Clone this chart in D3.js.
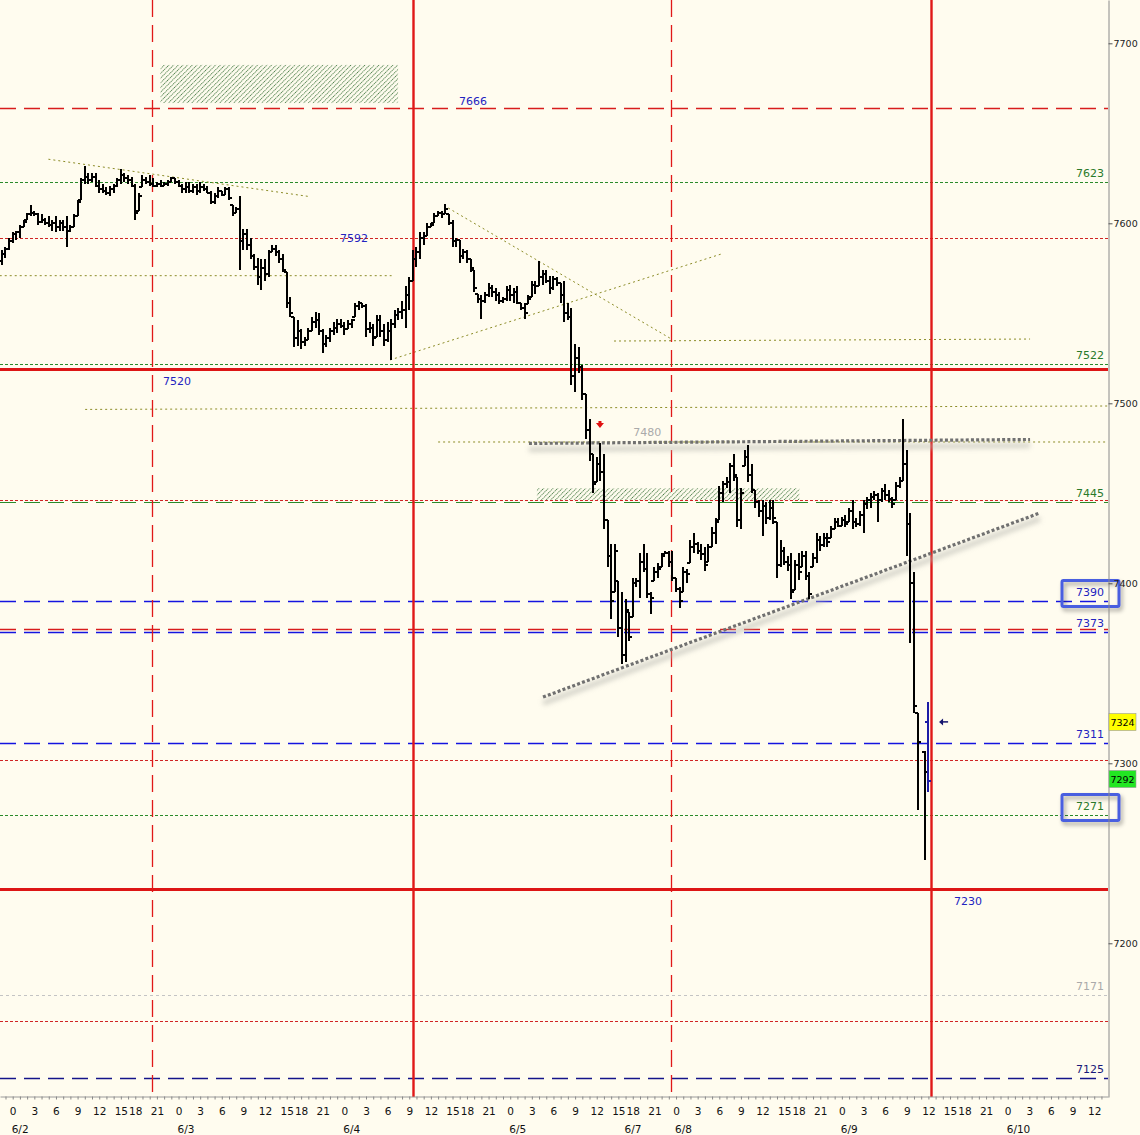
<!DOCTYPE html>
<html><head><meta charset="utf-8">
<script src="https://cdn.jsdelivr.net/npm/d3@7/dist/d3.min.js"></script>
<style>
html,body{margin:0;padding:0;background:#fffcef;}
svg{display:block;font-family:"DejaVu Sans",sans-serif;}
</style></head><body>
<svg id="chart" width="1140" height="1135"></svg>
<script>
// ---------------- DATA ----------------
// 30-minute OHLC bars; bar i sits at trading slot firstSlot + i
const firstSlot = -3;
const opens = [
7579,7583,7586,7590,7594,7595,7598,7602,7605,7606,
7605,7601,7602,7600,7599,7600,7598,7600,7598,7596,
7598,7604,7613,7624,7626,7624,7626,7621,7619,7618,
7617,7619,7621,7624,7627,7625,7624,7621,7607,7620,
7624,7623,7622,7621,7622,7621,7622,7623,7625,7623,
7621,7619,7620,7618,7620,7618,7620,7619,7617,7612,
7615,7618,7616,7619,7610,7606,7608,7590,7594,7588,
7582,7576,7570,7575,7572,7584,7586,7584,7580,7573,
7556,7548,7536,7540,7534,7535,7540,7545,7546,7540,
7533,7536,7540,7542,7544,7543,7541,7544,7548,7554,
7556,7554,7541,7542,7537,7546,7540,7535,7540,7544,
7549,7551,7552,7560,7568,7580,7584,7592,7593,7598,
7600,7604,7606,7605,7605,7600,7590,7591,7582,7584,
7580,7574,7561,7558,7557,7560,7564,7562,7560,7557,
7558,7563,7560,7562,7556,7553,7555,7559,7566,7565,
7570,7572,7568,7564,7569,7567,7560,7550,7548,7515,
7525,7520,7505,7485,7472,7456,7466,7462,7435,7415,
7395,7401,7375,7360,7384,7381,7400,7401,7412,7408,
7394,7401,7406,7409,7416,7417,7412,7403,7397,7395,
7406,7411,7420,7422,7418,7416,7412,7420,7428,7435,
7450,7455,7456,7465,7459,7435,7465,7470,7460,7452,
7445,7440,7443,7436,7442,7434,7410,7418,7412,7410,
7396,7410,7409,7415,7404,7409,7414,7424,7421,7425,
7425,7430,7434,7432,7435,7434,7440,7434,7433,7438,
7444,7446,7448,7449,7446,7451,7449,7447,7446,7454,
7457,7466,7433,7400,7328,null,7306,7323];
const highs = [
7585,7587,7592,7595,7596,7599,7602,7606,7610,7607,
7606,7605,7603,7604,7602,7604,7602,7602,7604,7599,
7605,7613,7625,7632,7628,7628,7628,7624,7622,7620,
7621,7622,7625,7630,7628,7627,7626,7622,7617,7627,
7626,7627,7625,7623,7624,7623,7624,7626,7625,7624,
7622,7623,7623,7622,7622,7623,7622,7621,7618,7617,
7620,7618,7620,7620,7610,7609,7615,7597,7597,7592,
7583,7581,7580,7580,7585,7588,7588,7585,7583,7573,
7559,7548,7546,7541,7537,7542,7548,7551,7550,7541,
7538,7542,7545,7547,7547,7545,7546,7547,7556,7557,
7556,7555,7545,7544,7549,7549,7544,7545,7547,7552,
7553,7557,7565,7570,7585,7587,7595,7595,7600,7600,
7606,7607,7607,7611,7605,7602,7592,7591,7586,7585,
7580,7574,7561,7560,7562,7567,7566,7564,7562,7559,
7565,7566,7564,7565,7556,7556,7560,7568,7568,7579,
7574,7574,7571,7571,7570,7567,7568,7556,7553,7533,
7531,7521,7505,7491,7472,7470,7478,7472,7435,7422,
7422,7401,7395,7391,7384,7403,7403,7417,7422,7417,
7395,7409,7411,7417,7418,7418,7418,7403,7398,7409,
7408,7424,7428,7423,7422,7420,7422,7431,7436,7454,
7457,7459,7467,7472,7459,7453,7474,7477,7466,7452,
7446,7446,7445,7446,7446,7434,7424,7420,7415,7417,
7413,7417,7418,7418,7406,7417,7428,7426,7428,7428,
7432,7436,7436,7437,7438,7442,7446,7436,7440,7446,
7448,7450,7451,7450,7453,7455,7452,7448,7456,7459,
7491,7474,7439,7406,7328,null,7307,7334];
const lows = [
7577,7581,7585,7589,7591,7592,7598,7602,7604,7604,
7599,7600,7599,7598,7596,7595,7596,7596,7587,7595,
7598,7604,7613,7622,7622,7623,7620,7617,7617,7616,
7615,7617,7620,7622,7623,7622,7620,7602,7607,7620,
7622,7621,7620,7620,7620,7621,7621,7623,7622,7620,
7617,7617,7617,7617,7616,7617,7618,7617,7611,7611,
7614,7615,7616,7613,7604,7606,7574,7585,7585,7580,
7574,7566,7563,7568,7570,7584,7582,7578,7573,7553,
7548,7531,7532,7530,7532,7535,7540,7542,7538,7528,
7531,7534,7538,7539,7542,7538,7541,7542,7548,7552,
7553,7537,7539,7532,7537,7537,7532,7534,7524,7542,
7546,7547,7542,7552,7568,7576,7580,7588,7593,7598,
7600,7604,7603,7605,7599,7587,7587,7578,7580,7578,
7573,7562,7556,7547,7556,7559,7559,7557,7555,7556,
7557,7557,7556,7555,7552,7547,7555,7559,7561,7565,
7566,7567,7561,7563,7565,7556,7545,7546,7510,7506,
7517,7502,7480,7468,7450,7456,7457,7430,7409,7380,
7395,7370,7355,7356,7368,7381,7398,7392,7406,7392,
7383,7401,7403,7409,7416,7409,7401,7395,7386,7395,
7400,7411,7417,7416,7413,7407,7412,7420,7422,7435,
7445,7453,7450,7457,7431,7430,7465,7456,7450,7442,
7437,7426,7433,7435,7433,7403,7409,7410,7407,7391,
7396,7402,7409,7402,7391,7409,7411,7418,7420,7420,
7425,7430,7431,7432,7431,7434,7430,7431,7432,7428,
7441,7442,7446,7434,7445,7446,7445,7442,7446,7453,
7457,7415,7367,7328,7274,null,7246,7284];
const closes = [
7583,7586,7590,7594,7595,7598,7601,7605,7606,7605,
7601,7602,7600,7599,7600,7598,7600,7598,7596,7598,
7604,7612,7624,7626,7624,7626,7621,7619,7618,7617,
7619,7621,7624,7627,7625,7624,7621,7606,7615,7624,
7623,7622,7621,7622,7621,7622,7623,7625,7623,7621,
7619,7620,7618,7620,7618,7620,7619,7617,7612,7615,
7618,7616,7619,7614,7606,7608,7590,7594,7588,7582,
7576,7570,7575,7572,7584,7586,7584,7580,7574,7556,
7550,7536,7540,7534,7535,7540,7545,7546,7540,7533,
7536,7540,7542,7544,7543,7541,7544,7546,7554,7556,
7554,7541,7542,7536,7546,7540,7535,7540,7544,7549,
7551,7552,7560,7568,7580,7584,7592,7593,7598,7599,
7604,7606,7605,7608,7600,7590,7591,7582,7584,7580,
7575,7564,7558,7557,7560,7564,7562,7560,7557,7558,
7563,7560,7562,7556,7553,7550,7558,7566,7565,7570,
7572,7568,7564,7569,7567,7560,7550,7548,7515,7525,
7520,7505,7485,7472,7455,7466,7462,7435,7415,7390,
7418,7375,7360,7385,7370,7400,7401,7412,7408,7394,
7392,7406,7408,7415,7417,7412,7403,7397,7390,7406,
7405,7420,7422,7418,7416,7410,7420,7428,7434,7450,
7455,7456,7465,7460,7435,7450,7470,7460,7452,7445,
7440,7443,7436,7442,7436,7410,7418,7412,7410,7395,
7410,7406,7415,7404,7394,7414,7424,7421,7425,7423,
7430,7434,7432,7435,7433,7440,7434,7433,7438,7444,
7446,7448,7449,7446,7451,7449,7447,7444,7454,7457,
7466,7433,7400,7332,7312,null,7295,7290];
const currentSlot = 254;

// horizontal levels (price) and their kinds
const levelValues = [7664,7623,7592,7522,7519,7446.5,7445,7390,7374.6,7373,7311,7302,7271,7230,7171,7157,7125];
const levelKinds  = ['redDash','greenDot','redDot','greenDot','redThick','redDot','greenDash','blueDash','redDash','blueDash','blueDash','redDot','greenDot','redThick','greyDash','redDot','navyDash'];

// right-edge level labels
const rightLabelValues = [7623,7522,7445,7390,7373,7311,7271,7171,7125];
const rightLabelTexts  = ['7623','7522','7445','7390','7373','7311','7271','7171','7125'];
const rightLabelKinds  = ['green','green','green','blue','blue','blue','green','grey','navy'];
const boxedLabels = ['7390','7271'];

// inline labels: [slot, price, text]
const inlineSlots  = [127.7, 94.7, 45.6, 265, 176];
const inlinePrices = [7664, 7592, 7519, 7230, 7480];
const inlineTexts  = ['7666','7592','7520','7230','7480'];
const inlineKinds  = ['blue','blue','blue','blue','grey'];
const inlinePlace  = ['above','center','below','below','above'];

// thin olive trend / segment lines: start & end [slot, price]
const trendStart = [[9.9,7635.6],[120.8,7608.5],[104.7,7524.1],[-3.6,7570.9],[20.1,7496.6],[166.8,7534.6],[118,7478.5]];
const trendEnd   = [[82.5,7614.8],[182.9,7535.5],[196.8,7583.1],[105.1,7570.9],[304,7498.5],[282.2,7535.7],[304,7478.5]];
// thick grey dotted channel lines
const chanStart = [[143.2,7477.7],[147.1,7336.8]];
const chanEnd   = [[282.2,7479.9],[284.96,7439.1]];

// hatched zones [slot0, slot1, priceTop, priceBottom]
const zoneSlot0 = [41.0, 145.4];
const zoneSlot1 = [106.9, 218.2];
const zoneTop   = [7688, 7452.8];
const zoneBot   = [7666.8, 7446.3];

// vertical time markers
const vlineSlots = [38.72, 110.9, 182.6, 254.7];
const vlineKinds = ['dash','solid','dash','solid'];

// markers
const downArrow = [162.9, 7488];
const leftArrow = [257.8, 7323];

// price tags on right axis
const tagValues = [7323, 7291.4];
const tagTexts  = ['7324','7292'];
const tagFills  = ['#ffff00','#22e622'];

// axis data
const yTicks = [7700,7600,7500,7400,7300,7200];
const dayStartSlots = [0,46,92,138,184,230,276];
const hourOffsets = [0,6,12,18,24,30,34,40];
const hourLabels  = ['0','3','6','9','12','15','18','21'];
const dateLabels = ['6/2','6/3','6/4','6/5','6/7','6/8','6/9','6/10'];
const dateSlots  = [0,46,92,138,170,184,230,276];

// ---------------- DRAWING ----------------
const W = 1140, H = 1135, plotR = 1108, plotB = 1097;
const xs = d3.scaleLinear().domain([-3.523, 303.82]).range([0, plotR]);
const ys = d3.scaleLinear().domain([7724.06, 7114.6]).range([0, plotB]);
const svg = d3.select('#chart');
svg.append('rect').attr('width',W).attr('height',H).attr('fill','#fffcef');

const defs = svg.append('defs');
defs.append('clipPath').attr('id','clip').append('rect').attr('x',0).attr('y',0).attr('width',plotR).attr('height',plotB);
const pat = defs.append('pattern').attr('id','hatch').attr('patternUnits','userSpaceOnUse')
  .attr('width',3.3).attr('height',12).attr('patternTransform','rotate(45)');
pat.append('line').attr('x1',0.5).attr('y1',0).attr('x2',0.5).attr('y2',12)
  .attr('stroke','#1f5f1f').attr('stroke-width',0.8).attr('stroke-dasharray','1.3,0.7');
const blur = defs.append('filter').attr('id','blur').attr('x','-10%').attr('y','-200%').attr('width','120%').attr('height','500%');
blur.append('feGaussianBlur').attr('stdDeviation',2.5);
const ds = defs.append('filter').attr('id','dshadow').attr('x','-20%').attr('y','-30%').attr('width','150%').attr('height','180%');
ds.append('feDropShadow').attr('dx',2).attr('dy',3).attr('stdDeviation',2).attr('flood-color','#000').attr('flood-opacity',0.35);

const plot = svg.append('g').attr('clip-path','url(#clip)');

const styles = {
  redDash:  {c:'#d81c1c', w:1.3, d:'16,8'},
  redDot:   {c:'#d02424', w:1, d:'3,2'},
  redThick: {c:'#dd1515', w:3, d:null},
  greenDot: {c:'#2a8a2a', w:1, d:'3,2'},
  greenDash:{c:'#2a8a2a', w:1.2, d:'16,8'},
  blueDash: {c:'#1414e0', w:1.4, d:'16,8'},
  navyDash: {c:'#14148a', w:1.3, d:'16,8'},
  greyDash: {c:'#c4c4c4', w:1, d:'3,3'}
};
const textColors = {blue:'#2323c0', green:'#2a7a2a', grey:'#aaaaaa', navy:'#18187a'};

// hatched zones
plot.append('g').selectAll('rect').data(zoneSlot0).join('rect')
  .attr('x',(d,i)=>xs(zoneSlot0[i])).attr('width',(d,i)=>xs(zoneSlot1[i])-xs(zoneSlot0[i]))
  .attr('y',(d,i)=>ys(zoneTop[i])).attr('height',(d,i)=>ys(zoneBot[i])-ys(zoneTop[i]))
  .attr('fill','url(#hatch)');

// horizontal levels
plot.append('g').selectAll('line').data(levelValues).join('line')
  .attr('x1',0).attr('x2',plotR)
  .attr('y1',d=>Math.round(ys(d))+0.5).attr('y2',d=>Math.round(ys(d))+0.5)
  .attr('stroke',(d,i)=>styles[levelKinds[i]].c)
  .attr('stroke-width',(d,i)=>styles[levelKinds[i]].w)
  .attr('stroke-dasharray',(d,i)=>styles[levelKinds[i]].d);

// thin olive trend lines
plot.append('g').selectAll('line').data(trendStart).join('line')
  .attr('x1',(d)=>xs(d[0])).attr('y1',d=>ys(d[1]))
  .attr('x2',(d,i)=>xs(trendEnd[i][0])).attr('y2',(d,i)=>ys(trendEnd[i][1]))
  .attr('stroke','#8c8c28').attr('stroke-width',1).attr('stroke-dasharray','2,3');

// vertical markers
plot.append('g').selectAll('line').data(vlineSlots).join('line')
  .attr('x1',d=>Math.round(xs(d))+0.5).attr('x2',d=>Math.round(xs(d))+0.5)
  .attr('y1',0).attr('y2',plotB)
  .attr('stroke','#e01818')
  .attr('stroke-width',(d,i)=>vlineKinds[i]==='solid'?2.4:1.3)
  .attr('stroke-dasharray',(d,i)=>vlineKinds[i]==='solid'?null:'17,8');

// channel lines with shadow
const ch = plot.append('g');
ch.selectAll('line.sh').data(chanStart).join('line').attr('class','sh')
  .attr('x1',d=>xs(d[0])).attr('y1',d=>ys(d[1])+6)
  .attr('x2',(d,i)=>xs(chanEnd[i][0])).attr('y2',(d,i)=>ys(chanEnd[i][1])+6)
  .attr('stroke','#b8b8b0').attr('stroke-width',5).attr('opacity',0.6).attr('filter','url(#blur)');
ch.selectAll('line.dl').data(chanStart).join('line').attr('class','dl')
  .attr('x1',d=>xs(d[0])).attr('y1',d=>ys(d[1]))
  .attr('x2',(d,i)=>xs(chanEnd[i][0])).attr('y2',(d,i)=>ys(chanEnd[i][1]))
  .attr('stroke','#707070').attr('stroke-width',3.2).attr('stroke-dasharray','3,2.2');

// OHLC bars
const bars = d3.range(opens.length).map(i=>({slot:firstSlot+i,o:opens[i],h:highs[i],l:lows[i],c:closes[i]}))
  .filter(d=>d.h!=null);
const gb = plot.append('g');
gb.selectAll('g').data(bars).join('g').each(function(d){
  const g = d3.select(this);
  const x = Math.round(xs(d.slot));
  const col = d.slot===currentSlot ? '#1c1ca6' : '#000';
  g.append('line').attr('x1',x).attr('x2',x).attr('y1',Math.round(ys(d.h))).attr('y2',Math.round(ys(d.l)))
    .attr('stroke',col).attr('stroke-width',2);
  g.append('line').attr('x1',x-3).attr('x2',x).attr('y1',Math.round(ys(d.o))).attr('y2',Math.round(ys(d.o)))
    .attr('stroke',col).attr('stroke-width',2);
  g.append('line').attr('x1',x).attr('x2',x+3).attr('y1',Math.round(ys(d.c))).attr('y2',Math.round(ys(d.c)))
    .attr('stroke',col).attr('stroke-width',2);
});

// markers
{
  const x = xs(downArrow[0]), y = ys(downArrow[1]);
  plot.append('path').attr('d',`M${x-4},${y-2} L${x+4},${y-2} L${x},${y+3} Z M${x-1.5},${y-4} L${x+1.5},${y-4} L${x+1.5},${y-2} L${x-1.5},${y-2} Z`)
    .attr('fill','#e01010');
  const x2 = xs(leftArrow[0]), y2 = ys(leftArrow[1]);
  plot.append('path').attr('d',`M${x2-3},${y2} L${x2+1},${y2-3.5} L${x2+1},${y2+3.5} Z`).attr('fill','#14146e');
  plot.append('line').attr('x1',x2).attr('x2',x2+6).attr('y1',y2).attr('y2',y2).attr('stroke','#14146e').attr('stroke-width',1.5);
}

// inline labels
svg.append('g').selectAll('text').data(inlineTexts).join('text')
  .attr('x',(d,i)=>xs(inlineSlots[i]))
  .attr('y',(d,i)=>{const y=ys(inlinePrices[i]); return inlinePlace[i]==='above'?y-3:(inlinePlace[i]==='below'?y+16:y+4);})
  .attr('text-anchor','middle').attr('font-size',11)
  .attr('fill',(d,i)=>textColors[inlineKinds[i]]).text(d=>d);

// right-side labels
const rl = svg.append('g');
rl.selectAll('text').data(rightLabelTexts).join('text')
  .attr('x',1104).attr('y',(d,i)=>Math.round(ys(rightLabelValues[i]))-5.5)
  .attr('text-anchor','end').attr('font-size',11)
  .attr('fill',(d,i)=>textColors[rightLabelKinds[i]]).text(d=>d);

// right axis
const yAxis = d3.axisRight(ys).tickValues(yTicks).tickSize(4).tickSizeOuter(0).tickPadding(1).tickFormat(d3.format('d'));
const ya = svg.append('g').attr('transform',`translate(${plotR+0.5},0)`).call(yAxis);
ya.select('.domain').attr('stroke','#8a8a8a');
ya.selectAll('.tick line').attr('stroke','#555');
ya.selectAll('.tick text').attr('font-size',9.5).attr('font-family','DejaVu Sans').attr('fill','#222');

// boxes around selected labels
rl.selectAll('rect.bx').data(boxedLabels).join('rect').attr('class','bx')
  .attr('x',1062).attr('width',57)
  .attr('y',d=>Math.round(ys(rightLabelValues[rightLabelTexts.indexOf(d)]))-20.5)
  .attr('height',26).attr('rx',1.5)
  .attr('fill','none').attr('stroke','#4a5fe0').attr('stroke-width',3).attr('filter','url(#dshadow)');

// price tags on axis
const tg = svg.append('g');
tg.selectAll('rect').data(tagValues).join('rect')
  .attr('x',1109).attr('width',27).attr('y',d=>Math.round(ys(d))-8.5).attr('height',17)
  .attr('fill',(d,i)=>tagFills[i]).attr('stroke','#9a9a9a').attr('stroke-width',0.6);
tg.selectAll('text').data(tagTexts).join('text')
  .attr('x',1122.5).attr('y',(d,i)=>Math.round(ys(tagValues[i]))+4)
  .attr('text-anchor','middle').attr('font-size',9.5).attr('fill','#000').text(d=>d);

// bottom axis
const hourSlots = [], hourTexts = [];
dayStartSlots.forEach(ds0=>hourOffsets.forEach((o,j)=>{ if (ds0+o <= 303) { hourSlots.push(ds0+o); hourTexts.push(hourLabels[j]); } }));
const minor = d3.range(-2, 304, 2);
const xMinor = d3.axisBottom(xs).tickValues(minor).tickSize(3).tickSizeOuter(0).tickFormat('');
const xm = svg.append('g').attr('transform',`translate(0,${plotB-0.5})`).call(xMinor);
xm.select('.domain').attr('stroke','#9a9a9a');
xm.selectAll('.tick line').attr('stroke','#888');
const xAxis = d3.axisBottom(xs).tickValues(hourSlots).tickSize(0).tickPadding(10.5).tickFormat((d,i)=>hourTexts[i]);
const xa = svg.append('g').attr('transform',`translate(0,${plotB})`).call(xAxis);
xa.select('.domain').remove();
xa.selectAll('.tick text').attr('font-size',10.5).attr('font-family','DejaVu Sans').attr('fill','#111');

svg.append('g').selectAll('text').data(dateLabels).join('text')
  .attr('x',(d,i)=>xs(dateSlots[i])-1).attr('y',1133)
  .attr('font-size',10.5).attr('fill','#111').text(d=>d);
</script></body></html>
